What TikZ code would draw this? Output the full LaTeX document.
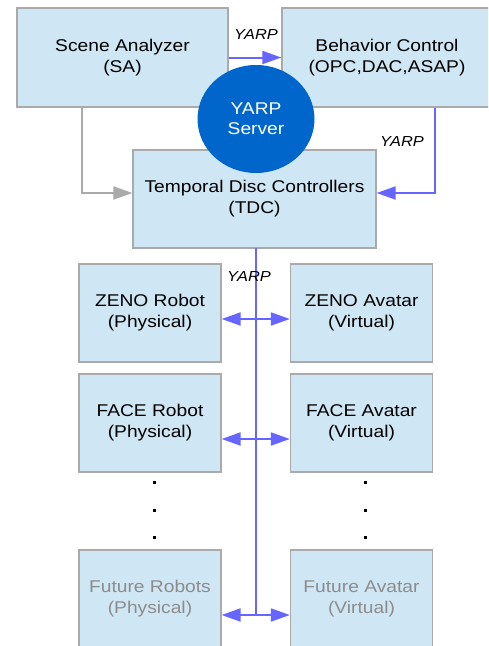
\documentclass[tikz,border=0pt]{standalone}
\usepackage{fontspec}
\setmainfont{Liberation Sans}[FakeStretch=1.13]
\usetikzlibrary{arrows.meta,shapes.geometric}
\definecolor{boxfill}{RGB}{207,230,244}
\definecolor{boxline}{RGB}{170,170,170}
\definecolor{yarpblue}{RGB}{102,102,255}
\definecolor{serverblue}{RGB}{0,102,204}
\definecolor{futuregray}{RGB}{140,140,140}
\begin{document}
\begin{tikzpicture}[x=1pt, y=-1pt,
	box/.style = {draw=boxline, fill=boxfill, line width=1.3pt, inner sep=0pt, align=center, font=\fontsize{17}{21}\selectfont},
	small/.style = {box, minimum width=142pt, minimum height=98pt},
	future/.style = {small, text=futuregray},
	server/.style = {ellipse, fill=serverblue, text=white, inner sep=0pt, minimum width=117pt, minimum height=108pt, align=center, font=\fontsize{17}{20}\selectfont},
	yarp/.style = {font=\fontsize{14.5}{16}\selectfont\itshape, inner sep=0pt},
	link/.style = {draw=yarpblue, line width=2pt, -{Triangle[length=19pt, width=13pt]}},
	both/.style = {link, {Triangle[length=19pt, width=13pt]}-{Triangle[length=19pt, width=13pt]}},
	plain/.style = {draw=boxline, line width=2pt, -{Triangle[length=19pt, width=13pt]}}]
	\clip (0,0) rectangle (488,646);
	\fill[white] (0,0) rectangle (488,646);

	\node[box, minimum width=211pt, minimum height=99pt] (sa) at (122.5,57.5) {Scene Analyzer\\(SA)};
	\node[box, minimum width=210pt, minimum height=99pt] (bc) at (387,57.5) {Behavior Control\\(OPC,DAC,ASAP)};
	\node[box, minimum width=243pt, minimum height=98pt] (tdc) at (254.5,199) {Temporal Disc Controllers\\(TDC)};

	\node[small] (zr) at (150,313) {ZENO Robot\\(Physical)};
	\node[small] (za) at (361.5,313) {ZENO Avatar\\(Virtual)};
	\node[small] (fr) at (150,423) {FACE Robot\\(Physical)};
	\node[small] (fa) at (361.5,423) {FACE Avatar\\(Virtual)};
	\node[future] (ur) at (150,599) {Future Robots\\(Physical)};
	\node[future] (ua) at (361.5,599) {Future Avatar\\(Virtual)};

	% dots between the rows
	\foreach \y in {482,510,537} {
		\fill (152.5,\y-1.5) rectangle ++(3,3);
		\fill (363.5,\y-1.5) rectangle ++(3,3);
	}

	\coordinate (gbend) at (82,193);
	\coordinate (bbend) at (435,193);
	\coordinate (top) at (256,248);
	\coordinate (b1) at (256,319);
	\coordinate (b2) at (256,439);
	\coordinate (b3) at (256,615);

	\draw[link] (sa) -- (bc);
	\draw[plain] (sa.south -| gbend) |- (tdc.west |- gbend);
	\draw[link] (bc.south -| bbend) |- (tdc.east |- bbend);
	\draw[draw=yarpblue, line width=2pt] (top) -- (b3);
	\draw[both] (zr.east |- b1) -- (za.west |- b1);
	\draw[both] (fr.east |- b2) -- (fa.west |- b2);
	\draw[both] (ur.east |- b3) -- (ua.west |- b3);

	\node[server] (srv) at (256,119) {YARP\\Server};

	\node[yarp] (l1) at (256,35) {YARP};
	\node[yarp] (l2) at (402,142) {YARP};
	\node[yarp] (l3) at (249,277) {YARP};
\end{tikzpicture}
\end{document}
